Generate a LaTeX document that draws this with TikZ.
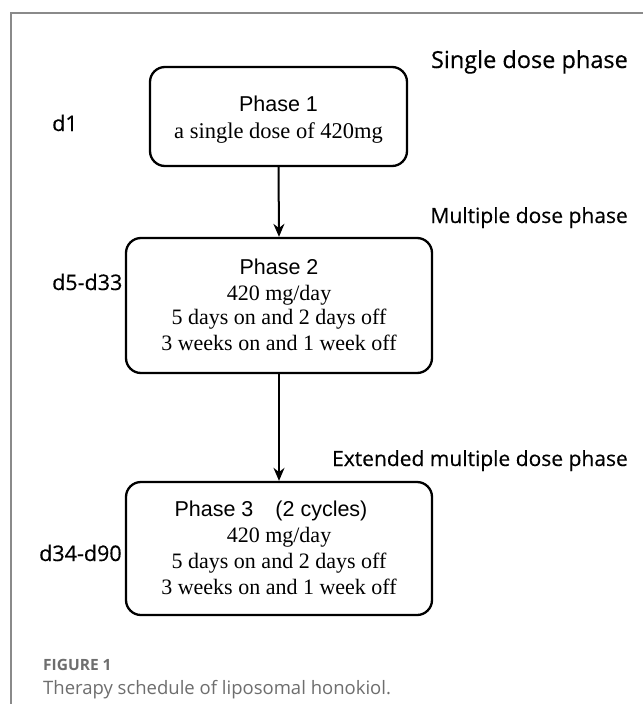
\documentclass[tikz,border=0pt]{standalone}
\usepackage{fontspec}
\setmainfont{Liberation Serif}
\newfontfamily\arialf{Liberation Sans}
\newfontfamily\labf[FakeBold=0.35]{Open Sans}
\newfontfamily\capf{Open Sans}
\usetikzlibrary{arrows.meta}
\definecolor{framegray}{HTML}{8A8A8A}
\definecolor{capgray}{HTML}{6E6E6E}
\tikzset{
  phasebox/.style={draw=black, line width=2.3pt, rounded corners=15pt, inner sep=0pt},
  sidelabel/.style={anchor=base east, inner sep=0pt, font=\labf\fontsize{21}{24}\selectfont},
  daylabel/.style={anchor=base west, inner sep=0pt, font=\labf\fontsize{21.5}{24}\selectfont},
  txt/.style={anchor=base, inner sep=0pt, font=\fontsize{22}{26}\selectfont},
  ttl/.style={anchor=base, inner sep=0pt, font=\arialf\fontsize{21.5}{26}\selectfont},
  flow/.style={line width=2pt, -{Stealth[length=13pt,width=11pt]}},
}
\begin{document}
\begin{tikzpicture}[x=1pt,y=-1pt]
\useasboundingbox (0,0) rectangle (643,704);
\fill[white] (0,0) rectangle (643,704);
% open frame
\draw[framegray, line width=2pt] (10.5,704) -- (10.5,12.7) -- (643,12.7);
% boxes
\node[phasebox, minimum width=257pt, minimum height=99pt] (b1) at (278.5,116.5) {};
\node[phasebox, minimum width=306pt, minimum height=135pt] (b2) at (279,305.5) {};
\node[phasebox, minimum width=306pt, minimum height=133pt] (b3) at (279,548.5) {};
% box texts
\node[ttl] (t1a) at (278.5,111) {Phase 1};
\node[txt, font=\fontsize{22.5}{26}\selectfont] (t1b) at (278.5,138) {a single dose of 420mg};
\node[ttl] (t2a) at (279,274) {Phase 2};
\node[txt] (t2b) at (279,300) {420 mg/day};
\node[txt] (t2c) at (279,324.5) {5 days on and 2 days off};
\node[txt] (t2d) at (279,350) {3 weeks on and 1 week off};
\node[ttl] (t3a) at (271,516) {Phase 3\hspace{22pt}(2 cycles)};
\node[txt] (t3b) at (279,542) {420 mg/day};
\node[txt] (t3c) at (279,568) {5 days on and 2 days off};
\node[txt] (t3d) at (279,594) {3 weeks on and 1 week off};
% arrows
\draw[flow] (b1.south) -- (b2.north);
\draw[flow] (b2.south) -- (b3.north);
% phase labels
\node[sidelabel, font=\labf\fontsize{23.5}{26}\selectfont] (l1) at (628,68) {Single dose phase};
\node[sidelabel] (l2) at (628,223) {Multiple dose phase};
\node[sidelabel] (l3) at (628,466) {Extended multiple dose phase};
% day labels
\node[daylabel] (d1) at (52,131) {d1};
\node[daylabel] (d2) at (52,290) {d5-d33};
\node[daylabel] (d3) at (39,561) {d34-d90};
% caption
\node[anchor=base west, inner sep=0pt, text=capgray, font=\capf\bfseries\fontsize{15.5}{18}\selectfont] (cap1) at (43,670) {FIGURE 1};
\node[anchor=base west, inner sep=0pt, text=capgray, font=\capf\fontsize{18.5}{22}\selectfont] (cap2) at (43,694) {Therapy schedule of liposomal honokiol.};
\end{tikzpicture}
\end{document}
